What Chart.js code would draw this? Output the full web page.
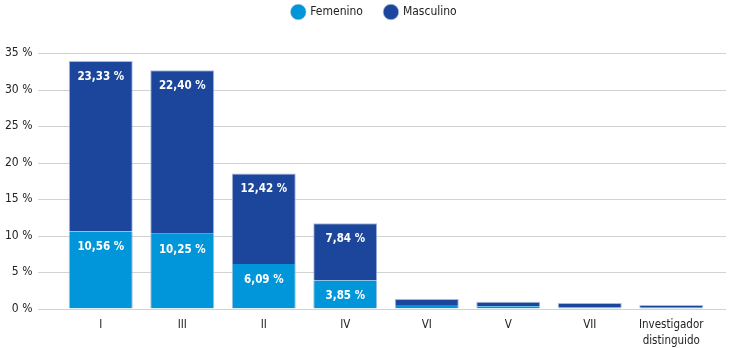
<!DOCTYPE html>
<html>
<head>
<meta charset="utf-8">
<script src="https://cdn.jsdelivr.net/npm/chart.js@4.4.1/dist/chart.umd.min.js"></script>
<style>
  html, body { margin: 0; padding: 0; background: #fff; }
  #wrap { width: 732px; height: 348px; }
</style>
</head>
<body>
<div id="wrap"><canvas id="grafico"></canvas></div>
<script>
// categorías y valores (%)
const categorias = ['I', 'III', 'II', 'IV', 'VI', 'V', 'VII', ['Investigador', 'distinguido']];
const femenino = [10.56, 10.25, 6.09, 3.85, 0.48, 0.30, 0.17, 0.10];
const masculino = [23.33, 22.40, 12.42, 7.84, 0.82, 0.63, 0.58, 0.38];
const yTicks = [0, 5, 10, 15, 20, 25, 30, 35];

const FUENTE = "'DejaVu Sans Condensed', 'DejaVu Sans', sans-serif";

// formato con coma decimal
function fmt(v) {
    return v.toFixed(2).replace('.', ',') + ' %';
}

// líneas de fondo más largas que el área del gráfico
const lineasFondo = {
    id: 'lineasFondo',
    beforeDatasetsDraw(chart) {
        const ctx = chart.ctx;
        const y = chart.scales.y;
        ctx.save();
        ctx.strokeStyle = '#d2d2d2';
        ctx.lineWidth = 1;
        yTicks.forEach(t => {
            const py = Math.round(y.getPixelForValue(t)) + 0.5;
            ctx.beginPath();
            ctx.moveTo(38, py);
            ctx.lineTo(726, py);
            ctx.stroke();
        });
        ctx.restore();
    }
};

// etiquetas blancas dentro de las barras
const etiquetas = {
    id: 'etiquetas',
    afterDatasetsDraw(chart) {
        const ctx = chart.ctx;
        ctx.save();
        ctx.fillStyle = '#ffffff';
        ctx.font = 'bold 11.5px ' + FUENTE;
        ctx.textAlign = 'center';
        ctx.textBaseline = 'middle';
        chart.data.datasets.forEach((ds, i) => {
            chart.getDatasetMeta(i).data.forEach((bar, j) => {
                if (ds.data[j] < 2) return;
                ctx.fillText(fmt(ds.data[j]), bar.x, bar.y + 16);
            });
        });
        ctx.restore();
    }
};

const ctx = document.getElementById('grafico').getContext('2d');
const chart = new Chart(ctx, {
    type: 'bar',
    data: {
        labels: categorias,
        datasets: [
            {
                label: 'Femenino',
                data: femenino,
                backgroundColor: '#0096d9',
                borderColor: '#a9bcdc',
                borderWidth: { left: 1, right: 1, top: 0, bottom: 0 },
                borderSkipped: false
            },
            {
                label: 'Masculino',
                data: masculino,
                backgroundColor: '#1b469c',
                borderColor: '#a9bcdc',
                borderWidth: { left: 1, right: 1, top: 1, bottom: 0 },
                borderSkipped: false
            }
        ]
    },
    options: {
        responsive: true,
        maintainAspectRatio: false,
        animation: false,
        layout: { padding: { left: 17, right: 0, top: -16, bottom: 0 } },
        datasets: { bar: { categoryPercentage: 1, barPercentage: 0.785 } },
        plugins: {
            tooltip: { enabled: false },
            legend: {
                position: 'top',
                labels: {
                    usePointStyle: true,
                    pointStyle: 'circle',
                    boxHeight: 11,
                    padding: 22,
                    color: '#222',
                    font: { family: FUENTE, size: 12 }
                }
            },
            // espacio vacío entre la leyenda y el gráfico
            title: {
                display: true,
                text: '',
                weight: 500,
                padding: { top: 15, bottom: 0 },
                font: { size: 10, lineHeight: 1 }
            }
        },
        scales: {
            x: {
                stacked: true,
                grid: { display: false, drawTicks: false },
                border: { display: false },
                ticks: {
                    color: '#222',
                    padding: 8,
                    maxRotation: 0,
                    font: { family: FUENTE, size: 11.5, lineHeight: 1.4 }
                },
                afterFit(scale) { scale.height = 39.5; }
            },
            y: {
                stacked: true,
                min: 0,
                max: 35,
                grid: { display: false, drawTicks: false },
                border: { display: false },
                ticks: {
                    stepSize: 5,
                    mirror: true,
                    crossAlign: 'far',
                    padding: -55,
                    color: '#222',
                    font: { family: FUENTE, size: 12 },
                    callback: v => v + ' %'
                },
                afterFit(scale) { scale.width = 43; }
            },
            y2: {
                position: 'right',
                grid: { display: false, drawTicks: false },
                border: { display: false },
                ticks: { display: false },
                afterFit(scale) { scale.width = 20; }
            }
        }
    },
    plugins: [lineasFondo, etiquetas]
});
</script>
</body>
</html>
